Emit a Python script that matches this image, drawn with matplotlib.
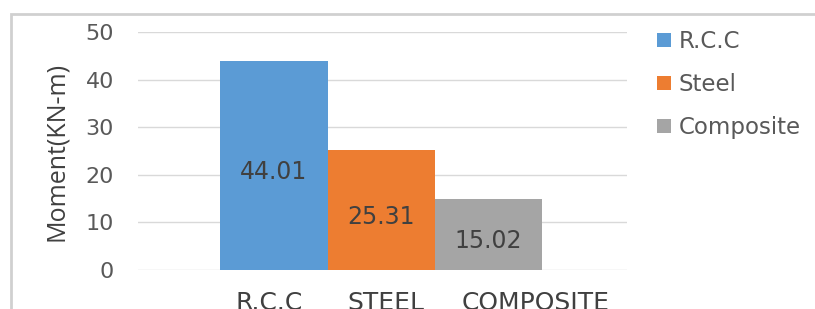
import matplotlib.pyplot as plt
from matplotlib.patches import Rectangle
from matplotlib.transforms import ScaledTranslation, blended_transform_factory

# 数据
categories = ['R.C.C', 'STEEL', 'COMPOSITE']
series_names = ['R.C.C', 'Steel', 'Composite']
moments = [44.01, 25.31, 15.02]
y_ticks = [0, 10, 20, 30, 40, 50]

colors = ['#5B9BD5', '#ED7D31', '#A5A5A5']
text_color = '#595959'
# 横轴标签在原图里并不正好居中于柱子（像素偏移）
label_shift_px = [-5, 5, 47]

plt.rcParams['font.family'] = ['DejaVu Sans']

fig = plt.figure(figsize=(8.15, 3.09), dpi=100)
ax = fig.add_axes([0.169, 0.126, 0.600, 0.770])

# 外框（只露出左上部分）
fig.patches.append(Rectangle((0.014, -0.1), 1.2, 1.056, transform=fig.transFigure,
                             fill=False, edgecolor='#d0d0d0', linewidth=2))

x = list(range(len(categories)))
for i in x:
    ax.bar(i, moments[i], width=1.0, color=colors[i], label=series_names[i], zorder=2)
    # 数值标签放在柱子中部稍偏下
    ax.annotate(f'{moments[i]:.2f}', (i, moments[i] / 2), xytext=(0, -5),
                textcoords='offset points', ha='center', va='center',
                fontsize=17, color='#404040', zorder=3)

ax.set_xlim(-1.27, 3.29)
ax.set_ylim(0, 50)
ax.set_yticks(y_ticks)
ax.set_xticks(x)
ax.set_xticklabels([])

# 横轴类别标签：手动画，带像素偏移
base = blended_transform_factory(ax.transData, ax.transAxes)
for i, (cat, dx) in enumerate(zip(categories, label_shift_px)):
    tr = base + ScaledTranslation(dx / 100, -21 / 100, fig.dpi_scale_trans)
    ax.text(i, 0, cat, transform=tr, ha='center', va='top',
            fontsize=18, color='#404040')

ax.tick_params(axis='y', labelsize=16, labelcolor=text_color, length=0, pad=17)
ax.tick_params(axis='x', length=0)
ax.grid(axis='y', color='#d9d9d9', linewidth=1, zorder=0)
for s in ax.spines.values():
    s.set_visible(False)
ax.set_ylabel('Moment(KN-m)', fontsize=18, color='#404040', labelpad=12,
              family=['Open Sans', 'DejaVu Sans'])

fig.legend(loc='upper left', bbox_to_anchor=(0.806, 0.902), frameon=False,
           fontsize=16.5, labelcolor=text_color, handlelength=0.6, handleheight=0.6,
           handletextpad=0.35, labelspacing=0.87, borderpad=0, borderaxespad=0)

fig.savefig('out.png', dpi=100)
